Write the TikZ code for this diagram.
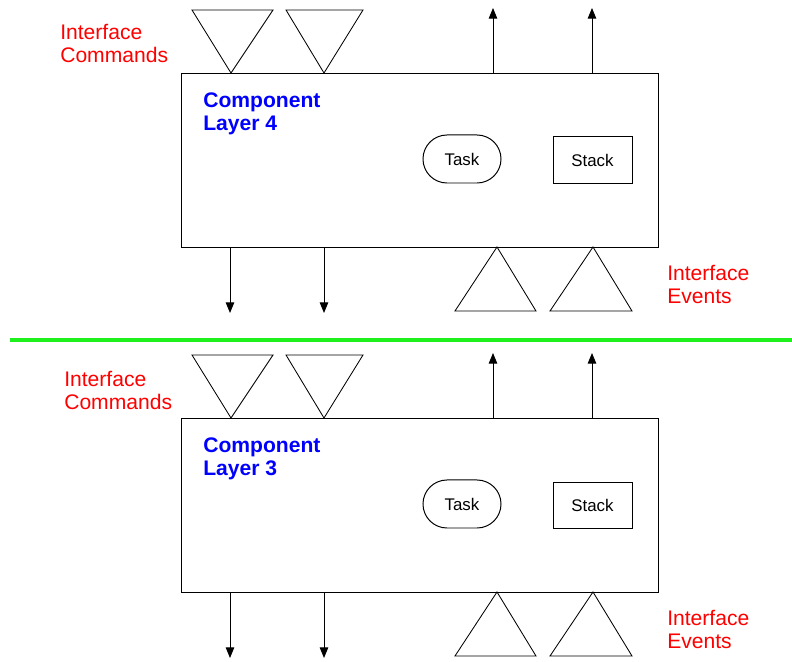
\documentclass[tikz,border=0pt]{standalone}
\usepackage{fontspec}
\setmainfont{Liberation Sans}
\usetikzlibrary{arrows.meta}
\definecolor{sepgreen}{RGB}{30,240,30}
\tikzset{
  layerbox/.style={draw, line width=0.8pt, minimum width=11.925cm, minimum height=4.35cm, anchor=north west, inner sep=0pt},
  taskbox/.style={draw, line width=0.7pt, minimum width=1.95cm, minimum height=1.2cm, rounded corners=0.6cm, font=\fontsize{12}{14}\selectfont},
  stackbox/.style={draw, line width=0.7pt, minimum width=1.975cm, minimum height=1.15cm, font=\fontsize{12}{14}\selectfont},
  iface/.style={text=red, align=left, anchor=north west, inner sep=0pt, font=\fontsize{15}{16.4}\selectfont},
  layername/.style={text=blue, align=left, anchor=north west, inner sep=0pt, font=\fontsize{15}{17}\selectfont\bfseries},
  sig/.style={line width=0.7pt, -{Triangle[length=7.5pt,width=6pt]}},
  tri/.style={line width=0.6pt}
}
\begin{document}
\begin{tikzpicture}[x=0.025cm,y=-0.025cm]
\useasboundingbox (0,0) rectangle (792,662);
% Parameters
\def\boxL{181};
\def\boxT{73};
\def\boxB{247};

\foreach \lay/\off in {4/0,3/345}{
  % Component box
  \node (box\lay) [layerbox] at (\boxL,\boxT+\off) {};
  \node (name\lay) [layername] at (203,92+\off) {Component\\Layer \lay};
  \node (task\lay) [taskbox] at (462,159+\off) {Task};
  \node (stack\lay) [stackbox] at (592.5,160+\off) {Stack};

  % Interface commands (in)
  \draw[tri] (192,10+\off) -- (273,10+\off) -- (231,\boxT+\off) -- cycle;
  \draw[tri] (286,10+\off) -- (363,10+\off) -- (324,\boxT+\off) -- cycle;
  \node (cmd\lay) [iface] at (60+4*\off/345,24+1.006*\off) {Interface\\Commands};

  % Outgoing calls
  \coordinate (upA\lay) at (493,8+\off);
  \coordinate (upB\lay) at (592,8+\off);
  \draw[sig] (box\lay.north -| upA\lay) -- (upA\lay);
  \draw[sig] (box\lay.north -| upB\lay) -- (upB\lay);

  % Downward calls
  \coordinate (dnA\lay) at (230,313+\off);
  \coordinate (dnB\lay) at (324,313+\off);
  \draw[sig] (box\lay.south -| dnA\lay) -- (dnA\lay);
  \draw[sig] (box\lay.south -| dnB\lay) -- (dnB\lay);

  % Interface events (in)
  \draw[tri] (455,311+\off) -- (536,311+\off) -- (497,\boxB+\off) -- cycle;
  \draw[tri] (550,311+\off) -- (632,311+\off) -- (593,\boxB+\off) -- cycle;
  \node (evt\lay) [iface] at (667,265+\off) {Interface\\Events};
}

% Layer separator
\coordinate (sepL) at (10,340);
\coordinate (sepR) at (792,340);
\draw[sepgreen, line width=2.8pt] (sepL) -- (sepR);
\end{tikzpicture}
\end{document}
